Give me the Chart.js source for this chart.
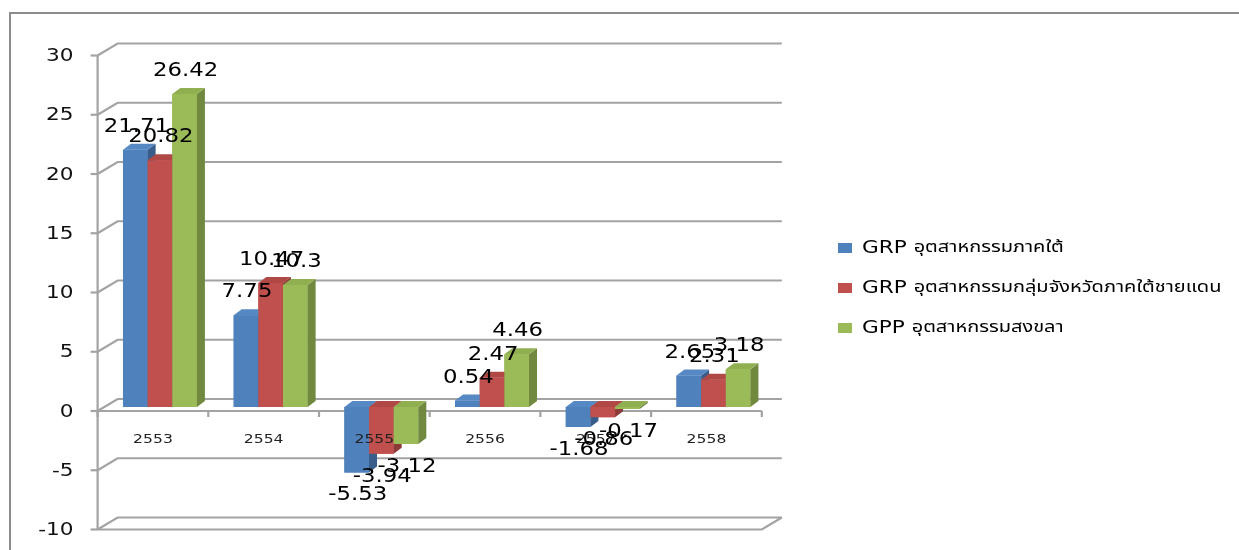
<!DOCTYPE html>
<html>
<head>
<meta charset="utf-8">
<script src="https://cdn.jsdelivr.net/npm/chart.js@4.4.1/dist/chart.umd.min.js"></script>
<style>
  body { margin: 0; background: #fff; }
  #wrap { position: relative; width: 1239px; height: 550px; overflow: hidden; }
  #frame { position: absolute; left: 9px; top: 12px; width: 1300px; height: 600px;
           border-top: 2px solid #8c8c8c; border-left: 2px solid #8c8c8c; }
  #chart { position: absolute; left: 0; top: 0; }
</style>
</head>
<body>
<div id="wrap">
  <div id="frame"></div>
  <canvas id="chart" width="1239" height="550"></canvas>
</div>
<script>
// data
const years = ['2553', '2554', '2555', '2556', '2557', '2558'];
const grpSouth = [21.71, 7.75, -5.53, 0.54, -1.68, 2.65];
const grpBorder = [20.82, 10.47, -3.94, 2.47, -0.86, 2.31];
const gppSongkhla = [26.42, 10.3, -3.12, 4.46, -0.17, 3.18];
const yTicks = [-10, -5, 0, 5, 10, 15, 20, 25, 30];

const prefixes = ['GRP ', 'GRP ', 'GPP '];
const thaiNames = ['อุตสาหกรรมภาคใต้', 'อุตสาหกรรมกลุ่มจังหวัดภาคใต้ชายแดน', 'อุตสาหกรรมสงขลา'];
const fronts = ['#4F81BD', '#C0504D', '#9BBB59'];
const sides = ['#385D8A', '#8C3B39', '#71893F'];
const tops = ['#5688C4', '#B04946', '#8FAF51'];

const DX = 8, DY = 6;        // bar depth
const SX = 1.2;              // text is stretched sideways in the reference
const GRID = '#a3a3a3';

function sText(ctx, str, x, y, align, font, color, sx) {
    ctx.save();
    ctx.font = font;
    ctx.fillStyle = color || '#000';
    ctx.textBaseline = 'middle';
    ctx.textAlign = align;
    ctx.translate(x, y);
    ctx.scale(sx || SX, 1);
    ctx.fillText(str, 0, 0);
    ctx.restore();
}

function line(ctx, pts) {
    ctx.beginPath();
    ctx.moveTo(pts[0][0], pts[0][1]);
    for (let i = 1; i < pts.length; i++) ctx.lineTo(pts[i][0], pts[i][1]);
    ctx.stroke();
}

const excel3d = {
    id: 'excel3d',
    beforeDatasetsDraw(chart) {
        const ctx = chart.ctx, y = chart.scales.y;
        const L = chart.chartArea.left, R = chart.chartArea.right;
        const fx = -7, fy = 4, bx = 13, by = -8;
        ctx.save();
        ctx.strokeStyle = GRID;
        ctx.lineWidth = 2.2;
        yTicks.forEach(v => {
            const p = y.getPixelForValue(v);
            // back wall grid + side wall diagonal
            line(ctx, [[L + fx, p + fy], [L + bx, p + by], [R + bx, p + by]]);
            // tick mark on the front axis
            line(ctx, [[L + fx - 7, p + fy], [L + fx, p + fy]]);
            sText(ctx, String(v), L + fx - 24, p + fy + 1, 'right', '18px "DejaVu Sans"', '#111');
        });
        // front axis
        line(ctx, [[L + fx, y.getPixelForValue(30) + fy], [L + fx, y.getPixelForValue(-10) + fy]]);
        // floor front edge at zero with category ticks
        const z = y.getPixelForValue(0) + fy;
        line(ctx, [[L + fx, z], [R + fx, z]]);
        const step = (R - L) / years.length;
        for (let k = 0; k <= years.length; k++) {
            line(ctx, [[L + fx + k * step, z], [L + fx + k * step, z + 6]]);
        }
        // bottom front edge
        const b = y.getPixelForValue(-10) + fy;
        line(ctx, [[L + fx, b], [R + fx, b], [R + bx, y.getPixelForValue(-10) + by]]);
        ctx.restore();
    },
    afterDatasetsDraw(chart) {
        const ctx = chart.ctx;
        const x = chart.scales.x, y = chart.scales.y;
        // chart.js paints the last dataset first; repaint left to right so each
        // series hides the depth faces of the one before it
        chart.data.datasets.forEach((ds, i) => {
            chart.getDatasetMeta(i).data.forEach(bar => {
                bar.draw(ctx);
                const l = bar.x - bar.width / 2, r = bar.x + bar.width / 2;
                const t = Math.min(bar.y, bar.base), btm = Math.max(bar.y, bar.base);
                ctx.fillStyle = sides[i];
                ctx.beginPath();
                ctx.moveTo(r, t); ctx.lineTo(r + DX, t - DY); ctx.lineTo(r + DX, btm - DY); ctx.lineTo(r, btm);
                ctx.closePath(); ctx.fill();
                ctx.fillStyle = tops[i];
                ctx.beginPath();
                ctx.moveTo(l, t); ctx.lineTo(l + DX, t - DY); ctx.lineTo(r + DX, t - DY); ctx.lineTo(r, t);
                ctx.closePath(); ctx.fill();
            });
            // category labels sit below the zero floor, over the first two series
            if (i === 1) {
                years.forEach((c, k) => {
                    sText(ctx, c, x.getPixelForValue(k) - 7, y.getPixelForValue(0) + 33, 'center', '13px "DejaVu Sans"', '#222');
                });
            }
        });
        chart.data.datasets.forEach((ds, i) => {
            chart.getDatasetMeta(i).data.forEach((bar, j) => {
                const v = ds.data[j];
                const yy = v >= 0 ? bar.y - 23 : bar.y + 23;
                sText(ctx, String(v), bar.x + 1, yy, 'center', '19px "DejaVu Sans"', '#000');
            });
        });
        // legend
        chart.data.datasets.forEach((ds, i) => {
            const cy = 248 + i * 40;
            ctx.fillStyle = fronts[i];
            ctx.fillRect(838, cy - 5, 14, 10);
            ctx.save();
            ctx.font = '18px "DejaVu Sans"';
            const w = ctx.measureText(prefixes[i]).width * SX;
            ctx.restore();
            sText(ctx, prefixes[i], 862, cy, 'left', '18px "DejaVu Sans"', '#000');
            sText(ctx, thaiNames[i], 862 + w, cy + 1, 'left',
                  '16px "Noto Sans Thai", "Loma", "Garuda", "Tlwg Typo", sans-serif', '#000', 1.25);
        });
    }
};

const chart = new Chart(document.getElementById('chart'), {
    type: 'bar',
    data: {
        labels: years,
        datasets: [
            { label: prefixes[0] + thaiNames[0], data: grpSouth, backgroundColor: fronts[0] },
            { label: prefixes[1] + thaiNames[1], data: grpBorder, backgroundColor: fronts[1] },
            { label: prefixes[2] + thaiNames[2], data: gppSongkhla, backgroundColor: fronts[2] }
        ]
    },
    options: {
        responsive: false,
        animation: false,
        layout: { padding: { left: 104.6, right: 470.2, top: 51.5, bottom: 24.5 } },
        datasets: { bar: { categoryPercentage: 0.668, barPercentage: 1.0, borderWidth: 0 } },
        scales: {
            x: { display: false },
            y: { display: false, min: -10, max: 30 }
        },
        plugins: { legend: { display: false }, tooltip: { enabled: false } }
    },
    plugins: [excel3d]
});
</script>
</body>
</html>
